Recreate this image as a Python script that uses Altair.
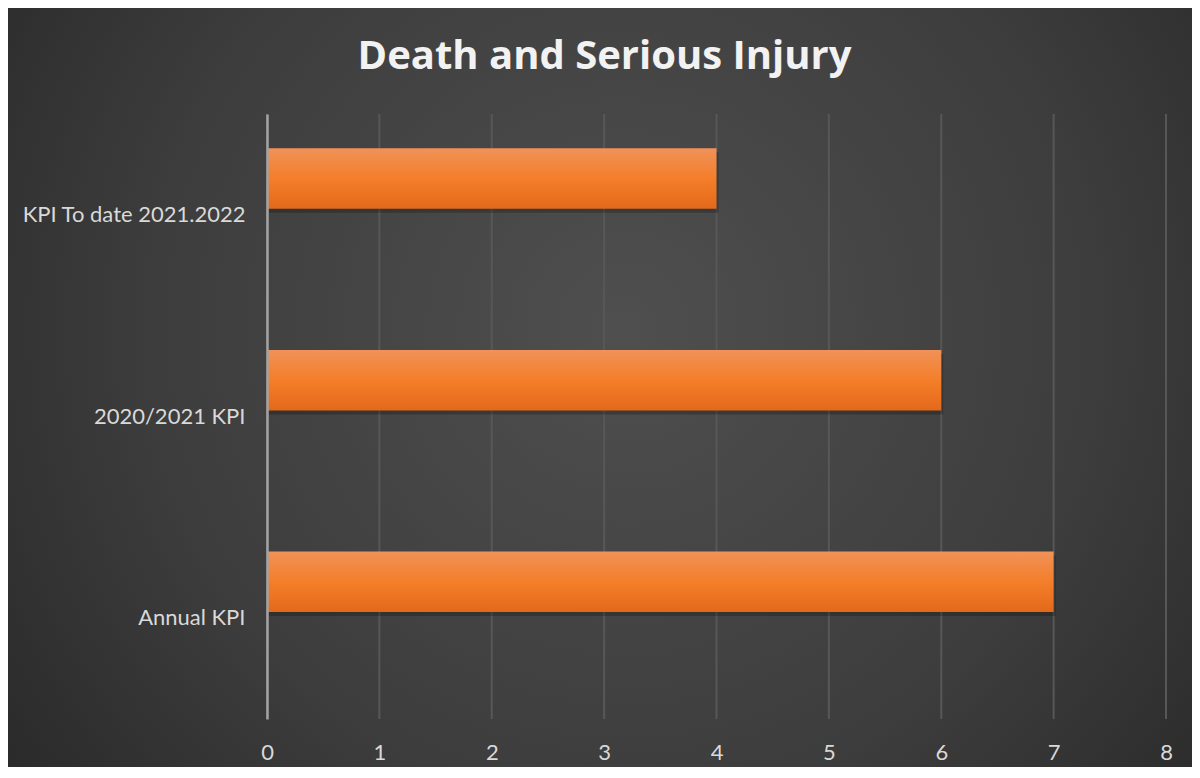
import altair as alt
import pandas as pd

categories = ["KPI To date 2021.2022", "2020/2021 KPI", "Annual KPI"]
values = [4, 6, 7]
x_ticks = [0, 1, 2, 3, 4, 5, 6, 7, 8]
title_text = "Death and Serious Injury"

df = pd.DataFrame({"category": categories, "value": values})
tick_df = pd.DataFrame({"tick": x_ticks})
bg_df = pd.DataFrame({"bg": [0]})

PW, PH = 899, 605
PAD = {"left": 259, "top": 106, "right": 26, "bottom": 48}

bg_grad = {
    "gradient": "radial",
    "x1": 0.52, "y1": 0.45, "r1": 0,
    "x2": 0.52, "y2": 0.45, "r2": 0.72,
    "stops": [
        {"offset": 0, "color": "#4f4f4f"},
        {"offset": 0.55, "color": "#3d3d3d"},
        {"offset": 1, "color": "#242424"},
    ],
}

bar_grad = {
    "gradient": "linear",
    "x1": 0, "y1": 0, "x2": 0, "y2": 1,
    "stops": [
        {"offset": 0, "color": "#f09258"},
        {"offset": 0.5, "color": "#f47e2a"},
        {"offset": 1, "color": "#e3691a"},
    ],
}

x_scale = alt.Scale(domain=[x_ticks[0], x_ticks[-1]], nice=False)

background = alt.Chart(bg_df).mark_rect(color=bg_grad).encode(
    x=alt.value(-PAD["left"]),
    x2=alt.value(PW + PAD["right"]),
    y=alt.value(-PAD["top"]),
    y2=alt.value(PH + PAD["bottom"]),
)

grid = alt.Chart(tick_df).mark_rule(color="#575757", strokeWidth=2).encode(
    x=alt.X("tick:Q", scale=x_scale)
)

y_enc = alt.Y(
    "category:N",
    sort=categories,
    scale=alt.Scale(paddingInner=0, paddingOuter=0),
    axis=alt.Axis(
        title=None,
        ticks=False,
        grid=False,
        domain=True,
        domainColor="#a3a3a3",
        domainWidth=2.5,
        labelFont="Lato",
        labelFontSize=22,
        labelColor="#d9d9d9",
        labelPadding=22,
        labelLimit=400,
        zindex=1,
    ),
)

x_enc = alt.X(
    "value:Q",
    scale=x_scale,
    axis=alt.Axis(
        title=None,
        values=x_ticks,
        ticks=False,
        domain=False,
        grid=False,
        labelFont="Lato",
        labelFontSize=22,
        labelColor="#d9d9d9",
        labelPadding=23,
        labelFlush=False,
        format="d",
        zindex=1,
    ),
)

shadow = alt.Chart(df).mark_bar(
    color="#000000", opacity=0.22, height={"band": 0.3}, yOffset=-36.3 + 4, xOffset=2
).encode(x=alt.X("value:Q", scale=x_scale), y=alt.Y("category:N", sort=categories))

bars = alt.Chart(df).mark_bar(
    color=bar_grad, height={"band": 0.3}, yOffset=-36.3
).encode(x=x_enc, y=y_enc)

chart = alt.layer(background, grid, shadow, bars).properties(
    width=PW,
    height=PH,
    padding=PAD,
    autosize="none",
    background="#2a2a2a",
    title=alt.TitleParams(
        text=title_text,
        font="Open Sans",
        fontSize=40,
        fontWeight="bold",
        color="#f2f2f2",
        anchor="middle",
        frame="group",
        dx=-112,
        offset=-101,
        baseline="alphabetic",
    ),
).configure_view(stroke=None)

chart.save("out.html", embed_options={"renderer": "svg", "actions": False})
